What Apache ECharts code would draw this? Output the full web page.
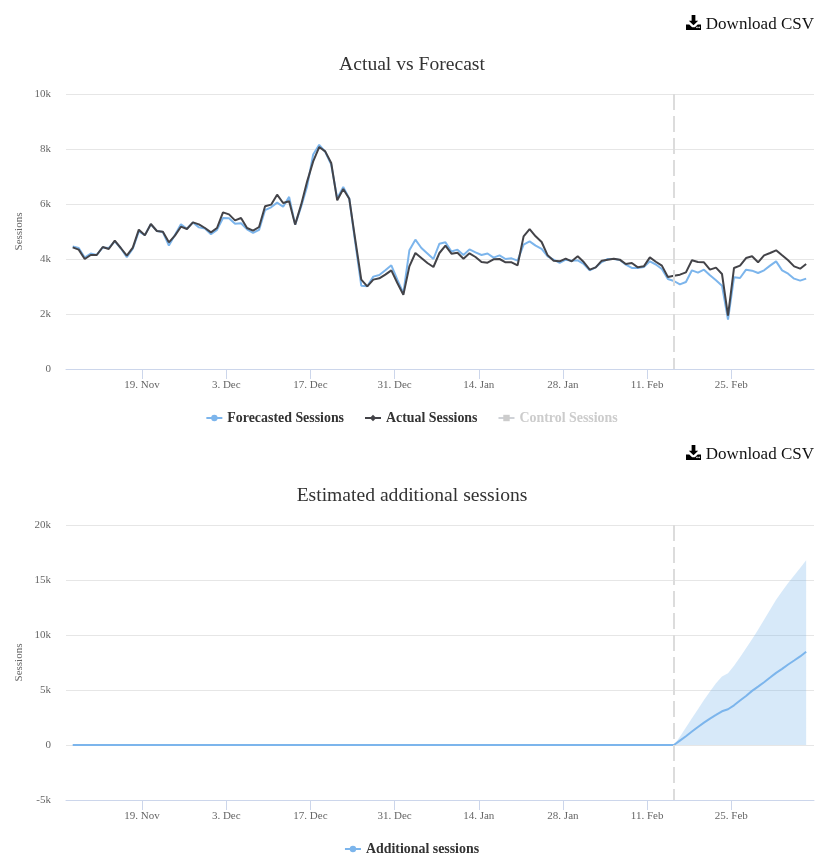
<!DOCTYPE html>
<html>
<head>
<meta charset="utf-8">
<title>Actual vs Forecast</title>
<script src="https://cdn.jsdelivr.net/npm/echarts@6/dist/echarts.min.js"></script>
<style>
  html, body { margin: 0; padding: 0; background: #fff; }
  #chart { position: absolute; left: 0; top: 0; width: 823px; height: 863px; }
  .download {
    position: absolute; right: 9px; height: 20px; line-height: 20px;
    font-family: "Liberation Serif", serif; font-size: 17px; color: #111;
    display: flex; align-items: center; gap: 5px;
  }
  .download svg { width: 15px; height: 15px; margin-top: -3px; }
</style>
</head>
<body>
<div id="chart"></div>
<div class="download" style="top:14px"><svg viewBox="0 0 16 16"><path d="M6 0h4v6h3l-5 5-5-5h3zM0 10h3.5l3 3h3l3-3H16v6H0zM12.5 13.2a.8.8 0 1 0 0 .1zM14.8 13.2a.8.8 0 1 0 0 .1z"/></svg>Download CSV</div>
<div class="download" style="top:444px"><svg viewBox="0 0 16 16"><path d="M6 0h4v6h3l-5 5-5-5h3zM0 10h3.5l3 3h3l3-3H16v6H0zM12.5 13.2a.8.8 0 1 0 0 .1zM14.8 13.2a.8.8 0 1 0 0 .1z"/></svg>Download CSV</div>
<script>
const DAY = 86400000
const firstDay = Date.UTC(2018, 10, 7, 11)

const tickDates = [
  Date.UTC(2018, 10, 19), Date.UTC(2018, 11, 3), Date.UTC(2018, 11, 17), Date.UTC(2018, 11, 31),
  Date.UTC(2019, 0, 14), Date.UTC(2019, 0, 28), Date.UTC(2019, 1, 11), Date.UTC(2019, 1, 25)
]
const tickLabels = ['19. Nov', '3. Dec', '17. Dec', '31. Dec', '14. Jan', '28. Jan', '11. Feb', '25. Feb']

const forecasted = [
  4460, 4400, 4050, 4200, 4150, 4420, 4400, 4640, 4390, 4070, 4380, 5000, 4870, 5260, 5020, 4980, 4490, 4870, 5260, 5100,
  5330, 5150, 5110, 4900, 5060, 5490, 5480, 5285, 5300, 5080, 4950, 5060, 5780, 5880, 6050, 5900, 6260, 5250, 5900, 6650,
  7800, 8150, 7900, 7430, 6200, 6620, 6200, 4600, 3030, 3010, 3358, 3420, 3588, 3770, 3250, 2760, 4315, 4703, 4400, 4200,
  4000, 4557, 4606, 4270, 4340, 4145, 4350, 4240, 4145, 4200, 4050, 4130, 4000, 4024, 3940, 4520, 4640, 4485, 4364, 4097,
  3976, 3855, 3976, 3940, 3950, 3818, 3590, 3697, 3890, 4000, 4000, 3964, 3794, 3673, 3673, 3710, 3915, 3800, 3636, 3273,
  3200, 3079, 3164, 3588, 3503, 3612, 3406, 3224, 3030, 1795, 3333, 3309, 3612, 3576, 3491, 3588, 3758, 3915, 3588, 3467,
  3285, 3212, 3285
]
const actual = [
  4424, 4340, 4000, 4145, 4145, 4436, 4364, 4667, 4400, 4120, 4412, 5067, 4860, 5272, 5018, 4994, 4606, 4848, 5175, 5090,
  5333, 5260, 5127, 4970, 5127, 5697, 5624, 5406, 5491, 5127, 5030, 5164, 5915, 5976, 6340, 6036, 6097, 5250, 5976, 6824,
  7550, 8072, 7915, 7490, 6133, 6545, 6194, 4700, 3250, 3006, 3250, 3297, 3430, 3588, 3127, 2703, 3733, 4218, 4036, 3855,
  3709, 4218, 4485, 4194, 4230, 4012, 4206, 4073, 3890, 3867, 3988, 4000, 3880, 3880, 3770, 4824, 5090, 4824, 4618, 4133,
  3940, 3915, 4012, 3915, 4097, 3890, 3612, 3697, 3940, 3976, 4012, 3976, 3818, 3855, 3697, 3733, 4060, 3900, 3758, 3345,
  3394, 3430, 3515, 3952, 3891, 3879, 3612, 3685, 3455, 1940, 3673, 3758, 4036, 4097, 3879, 4133, 4218, 4315, 4133, 3952,
  3733, 3648, 3818
]
const additional = [
  0, 0, 0, 0, 0, 0, 0, 0, 0, 0, 0, 0, 0, 0, 0, 0, 0, 0, 0, 0,
  0, 0, 0, 0, 0, 0, 0, 0, 0, 0, 0, 0, 0, 0, 0, 0, 0, 0, 0, 0,
  0, 0, 0, 0, 0, 0, 0, 0, 0, 0, 0, 0, 0, 0, 0, 0, 0, 0, 0, 0,
  0, 0, 0, 0, 0, 0, 0, 0, 0, 0, 0, 0, 0, 0, 0, 0, 0, 0, 0, 0,
  0, 0, 0, 0, 0, 0, 0, 0, 0, 0, 0, 0, 0, 0, 0, 0, 0, 0, 0, 0,
  0, 400, 800, 1220, 1640, 2034, 2400, 2730, 3066, 3250, 3610, 4040, 4460, 4920, 5310, 5710, 6130, 6560, 6920, 7320,
  7680, 8050, 8470
]
// upper edge of the shaded band, starts where the forecast period starts
const additionalUpper = [
  0, 760, 1580, 2430, 3250, 4100, 4860, 5620, 6220, 6530, 7200, 7980, 8800, 9620, 10470, 11380, 12300, 13200, 13970, 14720,
  15420, 16090, 16790
]
const bandStartIndex = 100

const serif = '"Liberation Serif", serif'
const dayWidth = 6.012
const plotLeft = 66
const plotRight = 814
const firstPointX = 72.7
const xMin = firstDay - (firstPointX - plotLeft) / dayWidth * DAY
const xMax = firstDay + (plotRight - firstPointX) / dayWidth * DAY
const forecastStart = firstDay + 99.9 * DAY

function toPoints(values, startIndex = 0) {
  return values.map((v, i) => [firstDay + (startIndex + i) * DAY, v])
}

function kFormat(value) {
  return value === 0 ? '0' : `${value / 1000}k`
}

function xAxis(gridIndex) {
  return {
    gridIndex,
    type: 'value',
    min: xMin,
    max: xMax,
    splitLine: { show: false },
    axisLine: { onZero: false, lineStyle: { color: '#ccd6eb' } },
    axisTick: { length: 10, lineStyle: { color: '#ccd6eb' }, customValues: tickDates },
    axisLabel: {
      customValues: tickDates,
      formatter: (v) => tickLabels[tickDates.indexOf(v)],
      color: '#666',
      fontFamily: serif,
      fontSize: 11,
      margin: 11
    }
  }
}

function yAxis(gridIndex, min, max, interval) {
  return {
    gridIndex,
    type: 'value',
    min,
    max,
    interval,
    name: 'Sessions',
    nameLocation: 'middle',
    nameGap: 41,
    nameMoveOverlap: false,
    nameTextStyle: { color: '#666', fontFamily: serif, fontSize: 11 },
    axisLine: { show: false },
    axisTick: { show: false },
    splitLine: { showMinLine: false, lineStyle: { color: '#e6e6e6' } },
    axisLabel: { formatter: kFormat, color: '#666', fontFamily: serif, fontSize: 11, margin: 15 }
  }
}

function forecastLine() {
  return {
    silent: true,
    symbol: 'none',
    label: { show: false },
    lineStyle: { color: '#dcdcdc', width: 2, type: [16, 6], dashOffset: 5 },
    data: [{ xAxis: forecastStart }]
  }
}

const legendText = { color: '#333', fontFamily: serif, fontSize: 13.9, fontWeight: 'bold' }
const titleText = { color: '#333', fontFamily: serif, fontSize: 19.6, fontWeight: 'normal' }

const chart = echarts.init(document.getElementById('chart'))
chart.setOption({
  animation: false,
  backgroundColor: '#fff',
  title: [
    { text: 'Actual vs Forecast', left: 407, top: 50, textAlign: 'center', textStyle: titleText },
    { text: 'Estimated additional sessions', left: 407, top: 481, textAlign: 'center', textStyle: titleText }
  ],
  grid: [
    { left: plotLeft, width: plotRight - plotLeft, top: 94, height: 275 },
    { left: plotLeft, width: plotRight - plotLeft, top: 525, height: 275 }
  ],
  xAxis: [xAxis(0), xAxis(1)],
  yAxis: [yAxis(0, 0, 10000, 2000), yAxis(1, -5000, 20000, 5000)],
  legend: [
    {
      data: ['Forecasted Sessions', 'Actual Sessions', 'Control Sessions'],
      selected: { 'Control Sessions': false },
      top: 406,
      left: 'center',
      itemWidth: 16,
      itemHeight: 8,
      itemGap: 20,
      inactiveColor: '#ccc',
      textStyle: legendText
    },
    {
      data: ['Additional sessions'],
      top: 837,
      left: 'center',
      itemWidth: 16,
      itemHeight: 8,
      textStyle: legendText
    }
  ],
  series: [
    {
      name: 'Forecasted Sessions',
      type: 'line',
      xAxisIndex: 0,
      yAxisIndex: 0,
      data: toPoints(forecasted),
      symbol: 'circle',
      showSymbol: false,
      itemStyle: { color: '#7cb5ec' },
      lineStyle: { width: 2, color: '#7cb5ec' },
      markLine: forecastLine()
    },
    {
      name: 'Actual Sessions',
      type: 'line',
      xAxisIndex: 0,
      yAxisIndex: 0,
      data: toPoints(actual),
      symbol: 'diamond',
      showSymbol: false,
      itemStyle: { color: '#434348' },
      lineStyle: { width: 2, color: '#434348' }
    },
    {
      name: 'Control Sessions',
      type: 'line',
      xAxisIndex: 0,
      yAxisIndex: 0,
      data: [],
      symbol: 'rect',
      showSymbol: false,
      itemStyle: { color: '#ccc' },
      lineStyle: { width: 2, color: '#ccc' }
    },
    {
      name: 'Additional sessions range',
      type: 'line',
      xAxisIndex: 1,
      yAxisIndex: 1,
      data: toPoints(additionalUpper, bandStartIndex),
      showSymbol: false,
      lineStyle: { width: 0 },
      itemStyle: { color: '#7cb5ec' },
      areaStyle: { color: '#7cb5ec', opacity: 0.3, origin: 0 },
      markLine: forecastLine()
    },
    {
      name: 'Additional sessions',
      type: 'line',
      xAxisIndex: 1,
      yAxisIndex: 1,
      data: toPoints(additional),
      symbol: 'circle',
      showSymbol: false,
      itemStyle: { color: '#7cb5ec' },
      lineStyle: { width: 2, color: '#7cb5ec' }
    }
  ]
})

window.addEventListener('resize', () => {
  chart.resize()
})
</script>
</body>
</html>
